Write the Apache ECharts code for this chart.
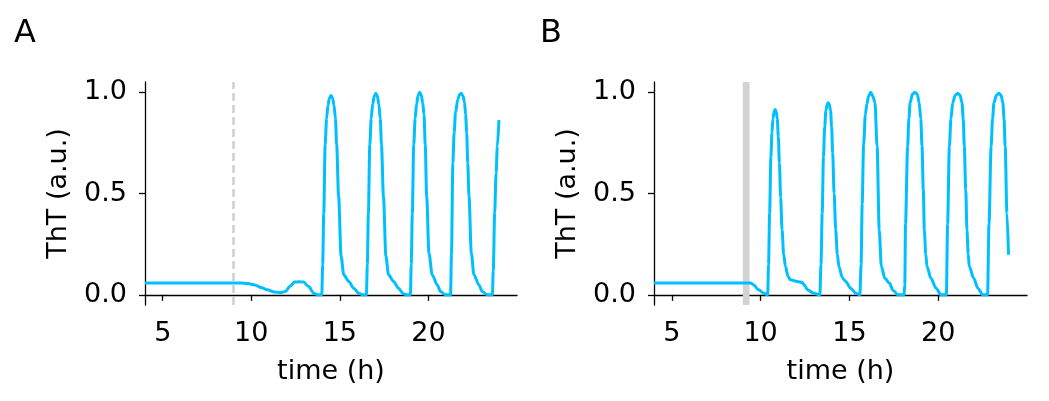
<!DOCTYPE html>
<html>
<head>
<meta charset="utf-8" />
<script src="https://cdn.jsdelivr.net/npm/echarts@6/dist/echarts.min.js"></script>
<style>
  html, body { margin: 0; padding: 0; background: #fff; }
  #EchartMain { width: 1049px; height: 401px; }
</style>
</head>
<body>
<div id="EchartMain"></div>
<script>
// panel A: time (h) and ThT signal
const timeA = [4.0, 9.4, 9.8, 10.2, 10.6, 10.9, 11.3, 11.63, 11.92, 12.2, 12.45, 12.7, 12.95, 13.24, 13.52, 13.75, 13.98,
  14.03, 14.09, 14.17, 14.25, 14.33, 14.41, 14.5, 14.59, 14.67, 14.75, 14.82, 14.93, 15.07, 15.22, 15.5, 15.78, 16.06, 16.3, 16.5,
  16.55, 16.61, 16.69, 16.77, 16.85, 16.94, 17.03, 17.12, 17.2, 17.28, 17.35, 17.46, 17.6, 17.75, 18.03, 18.31, 18.58, 18.8, 18.98,
  19.03, 19.09, 19.17, 19.25, 19.33, 19.42, 19.51, 19.6, 19.68, 19.75, 19.82, 19.9, 20.03, 20.21, 20.5, 20.68, 20.97, 21.25,
  21.3, 21.38, 21.45, 21.53, 21.66, 21.76, 21.85, 21.95, 22.04, 22.1, 22.16, 22.22, 22.29, 22.42, 22.57, 22.85, 23.04, 23.33, 23.61,
  23.66, 23.74, 23.82, 23.89, 23.98];
const thtA = [0.058, 0.058, 0.056, 0.049, 0.035, 0.025, 0.014, 0.011, 0.016, 0.044, 0.063, 0.065, 0.063, 0.041, 0.008, 0.0, 0.0,
  0.15, 0.4, 0.74, 0.87, 0.935, 0.97, 0.984, 0.97, 0.935, 0.87, 0.74, 0.486, 0.19, 0.099, 0.066, 0.033, 0.008, 0.0, 0.0,
  0.15, 0.4, 0.74, 0.87, 0.94, 0.98, 0.995, 0.98, 0.94, 0.87, 0.74, 0.486, 0.19, 0.099, 0.066, 0.033, 0.006, 0.0, 0.0,
  0.15, 0.4, 0.74, 0.87, 0.94, 0.985, 1.0, 0.985, 0.945, 0.89, 0.74, 0.486, 0.207, 0.099, 0.049, 0.016, 0.0, 0.0,
  0.2, 0.65, 0.8, 0.898, 0.965, 0.988, 0.994, 0.982, 0.948, 0.89, 0.8, 0.65, 0.486, 0.207, 0.099, 0.049, 0.016, 0.0, 0.0,
  0.12, 0.405, 0.6, 0.733, 0.862];

// panel B
const timeB = [4.0, 9.45, 9.6, 9.89, 10.18, 10.4,
  10.45, 10.51, 10.58, 10.64, 10.7, 10.76, 10.82, 10.88, 10.94, 11.0, 11.06, 11.13, 11.21, 11.3, 11.4, 11.55, 11.68, 12.06, 12.34, 12.5, 12.63, 13.0, 13.34,
  13.4, 13.47, 13.54, 13.61, 13.68, 13.75, 13.81, 13.87, 13.94, 14.0, 14.06, 14.14, 14.23, 14.32, 14.41, 14.6, 14.79, 15.07, 15.36, 15.59,
  15.66, 15.72, 15.8, 15.9, 15.98, 16.08, 16.2, 16.32, 16.44, 16.56, 16.68, 16.8, 17.0, 17.25, 17.46, 17.74, 18.08,
  18.12, 18.16, 18.28, 18.35, 18.42, 18.55, 18.69, 18.82, 18.93, 19.02, 19.09, 19.16, 19.22, 19.3, 19.37, 19.59, 19.88, 20.16, 20.46,
  20.53, 20.63, 20.72, 20.82, 20.96, 21.1, 21.23, 21.34, 21.41, 21.47, 21.55, 21.62, 21.69, 21.75, 22.0, 22.23, 22.51, 22.78,
  22.86, 22.98, 23.06, 23.14, 23.28, 23.42, 23.54, 23.64, 23.71, 23.77, 23.87, 23.96];
const thtB = [0.058, 0.058, 0.05, 0.025, 0.008, 0.0,
  0.15, 0.404, 0.68, 0.8, 0.87, 0.905, 0.914, 0.905, 0.87, 0.78, 0.65, 0.48, 0.321, 0.2, 0.14, 0.09, 0.074, 0.066, 0.061, 0.045, 0.025, 0.008, 0.0,
  0.15, 0.404, 0.68, 0.83, 0.91, 0.94, 0.948, 0.94, 0.91, 0.83, 0.7, 0.5, 0.321, 0.2, 0.14, 0.085, 0.066, 0.033, 0.008, 0.0,
  0.15, 0.45, 0.74, 0.89, 0.94, 0.98, 1.0, 0.98, 0.948, 0.733, 0.32, 0.14, 0.082, 0.058, 0.022, 0.0, 0.0,
  0.05, 0.35, 0.733, 0.87, 0.948, 0.99, 1.0, 0.99, 0.948, 0.87, 0.733, 0.52, 0.32, 0.2, 0.14, 0.082, 0.033, 0.0, 0.0,
  0.35, 0.733, 0.87, 0.948, 0.985, 0.995, 0.985, 0.948, 0.87, 0.733, 0.52, 0.32, 0.2, 0.14, 0.082, 0.033, 0.0, 0.0,
  0.35, 0.733, 0.87, 0.948, 0.985, 0.995, 0.985, 0.948, 0.87, 0.733, 0.404, 0.198];

const xTicks = [5, 10, 15, 20];
const yTicks = [0, 0.5, 1.0];
const panelLabels = ["A", "B"];
const markA = 9; // dashed line in A
const bandB = [9.0, 9.38]; // grey band in B

const FONT = "DejaVu Sans";
const lineColor = "#00bfff";

function xAxisCfg(gridIndex) {
  return {
    type: "value",
    gridIndex: gridIndex,
    min: 4,
    max: 25,
    name: "time (h)",
    nameLocation: "middle",
    nameGap: 53,
    nameTextStyle: { fontFamily: FONT, fontSize: 27, color: "#000" },
    axisLine: { show: true, lineStyle: { color: "#000", width: 1.3 } },
    axisTick: { show: true, length: 6, lineStyle: { color: "#000", width: 1.3 }, customValues: xTicks },
    axisLabel: { fontFamily: FONT, fontSize: 27, color: "#000", margin: 15, customValues: xTicks },
    splitLine: { show: false },
  };
}

function yAxisCfg(gridIndex) {
  return {
    type: "value",
    gridIndex: gridIndex,
    min: -0.05,
    max: 1.05,
    name: "ThT (a.u.)",
    nameLocation: "middle",
    nameGap: 73,
    nameTextStyle: { fontFamily: FONT, fontSize: 27, color: "#000" },
    axisLine: { show: true, lineStyle: { color: "#000", width: 1.3 } },
    axisTick: { show: true, length: 6, lineStyle: { color: "#000", width: 1.3 }, customValues: yTicks },
    axisLabel: {
      fontFamily: FONT,
      fontSize: 27,
      color: "#000",
      margin: 18,
      customValues: yTicks,
      formatter: (v) => v.toFixed(1),
    },
    splitLine: { show: false },
  };
}

const option = {
  animation: false,
  backgroundColor: "#fff",
  grid: [
    { left: 145, top: 82, width: 372, height: 223 },
    { left: 654, top: 82, width: 373, height: 223 },
  ],
  xAxis: [xAxisCfg(0), xAxisCfg(1)],
  yAxis: [yAxisCfg(0), yAxisCfg(1)],
  graphic: [
    { type: "text", left: 14, top: 18, style: { text: panelLabels[0], font: "32px " + FONT, fill: "#000" } },
    { type: "text", left: 540, top: 18, style: { text: panelLabels[1], font: "32px " + FONT, fill: "#000" } },
  ],
  series: [
    // markers sit under the curves
    {
      type: "line",
      xAxisIndex: 0,
      yAxisIndex: 0,
      data: [],
      z: 1,
      markLine: {
        silent: true,
        symbol: "none",
        label: { show: false },
        lineStyle: { color: "#cfcfcf", width: 2.5, type: [8, 4] },
        data: [{ xAxis: markA }],
      },
    },
    {
      type: "line",
      xAxisIndex: 1,
      yAxisIndex: 1,
      data: [],
      z: 1,
      markArea: {
        silent: true,
        itemStyle: { color: "#d3d3d3", opacity: 1 },
        data: [[{ xAxis: bandB[0] }, { xAxis: bandB[1] }]],
      },
    },
    {
      type: "line",
      xAxisIndex: 0,
      yAxisIndex: 0,
      data: timeA.map((t, i) => [t, thtA[i]]),
      showSymbol: false,
      smooth: 0.3,
      smoothMonotone: "x",
      lineStyle: { color: lineColor, width: 3 },
      itemStyle: { color: lineColor },
      z: 5,
    },
    {
      type: "line",
      xAxisIndex: 1,
      yAxisIndex: 1,
      data: timeB.map((t, i) => [t, thtB[i]]),
      showSymbol: false,
      smooth: 0.3,
      smoothMonotone: "x",
      lineStyle: { color: lineColor, width: 3 },
      itemStyle: { color: lineColor },
      z: 5,
    },
  ],
};

const chartDom = document.getElementById("EchartMain");
const myChart = echarts.init(chartDom);
myChart.setOption(option);
window.addEventListener("resize", () => {
  myChart.resize();
});
</script>
</body>
</html>
